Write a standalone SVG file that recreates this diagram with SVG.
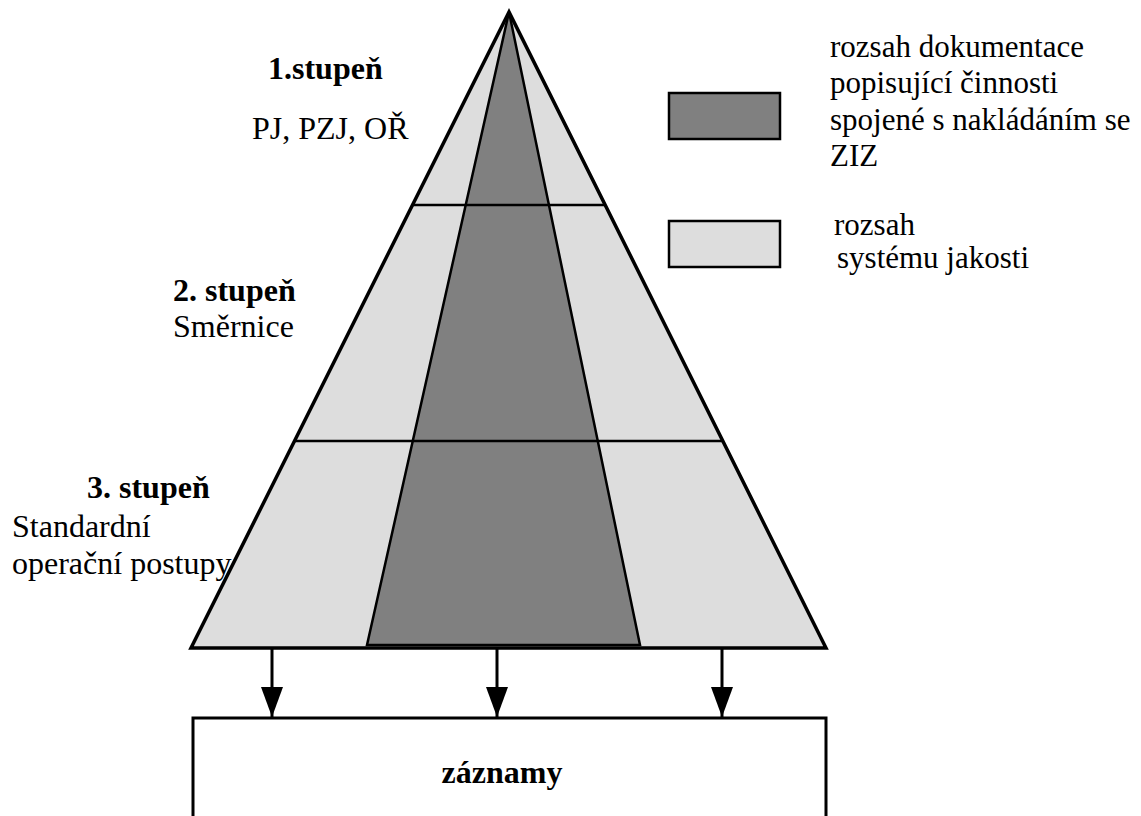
<svg xmlns="http://www.w3.org/2000/svg" width="1141" height="816" viewBox="0 0 1141 816">
  <style>
    text { font-size: 32px; fill: #000; }
    .b { font-weight: bold; }
    .lg { font-size: 31px; }
    .light { fill: #dddddd; }
    .dark { fill: #808080; }
    .edge { fill: none; stroke: #000; stroke-width: 3.5; stroke-linejoin: miter; }
    .inner { fill: none; stroke: #000; stroke-width: 2.5; }
    .conn { stroke: #000; stroke-width: 3; fill: none; }
  </style>
  <defs>
    <marker id="arrow" markerUnits="userSpaceOnUse" markerWidth="32" markerHeight="24" refX="30" refY="11" orient="auto">
      <polygon points="0,0 30,11 0,22" fill="#000"/>
    </marker>
  </defs>
  <rect width="1141" height="816" fill="#fff"/>

  <g id="pyramid">
    <polygon class="light" points="509,12 191,648 826,648"/>
    <polygon class="dark" points="509,12 367,645 640,645" stroke="#000" stroke-width="2.5"/>
    <line class="inner" x1="412" y1="205" x2="606" y2="205"/>
    <line class="inner" x1="294" y1="441" x2="724" y2="441"/>
    <polygon class="edge" points="509,12 191,648 826,648"/>
  </g>

  <g font-family="Liberation Serif, Times New Roman, serif">
  <g id="level1">
    <text class="b" x="268" y="79">1.stupeň</text>
    <text x="252" y="139" font-size="33">PJ, PZJ, OŘ</text>
  </g>
  <g id="level2">
    <text class="b" x="173" y="301">2. stupeň</text>
    <text x="173" y="337">Směrnice</text>
  </g>
  <g id="level3">
    <text class="b" x="87" y="498">3. stupeň</text>
    <text x="12" y="537">Standardní</text>
    <text x="12" y="574">operační postupy</text>
  </g>

  <g id="legend-dark">
    <rect class="dark" x="669" y="93" width="111" height="46" stroke="#000" stroke-width="2.5"/>
    <text class="lg" x="830" y="57">rozsah dokumentace</text>
    <text class="lg" x="830" y="93">popisující činnosti</text>
    <text class="lg" x="830" y="130">spojené s nakládáním se</text>
    <text class="lg" x="830" y="166">ZIZ</text>
  </g>
  <g id="legend-light">
    <rect class="light" x="669" y="221" width="111" height="46" stroke="#000" stroke-width="2.5"/>
    <text class="lg" x="834" y="235">rozsah</text>
    <text class="lg" x="837" y="268">systému jakosti</text>
  </g>

  <g id="records">
    <polyline class="conn" points="193,818 193,718 826,718 826,818"/>
    <text class="b" x="502" y="783" text-anchor="middle" font-size="31">záznamy</text>
  </g>
  </g>

  <g id="connectors">
    <line class="conn" x1="272" y1="648" x2="272" y2="717" marker-end="url(#arrow)"/>
    <line class="conn" x1="497" y1="648" x2="497" y2="717" marker-end="url(#arrow)"/>
    <line class="conn" x1="722" y1="648" x2="722" y2="717" marker-end="url(#arrow)"/>
  </g>
</svg>
